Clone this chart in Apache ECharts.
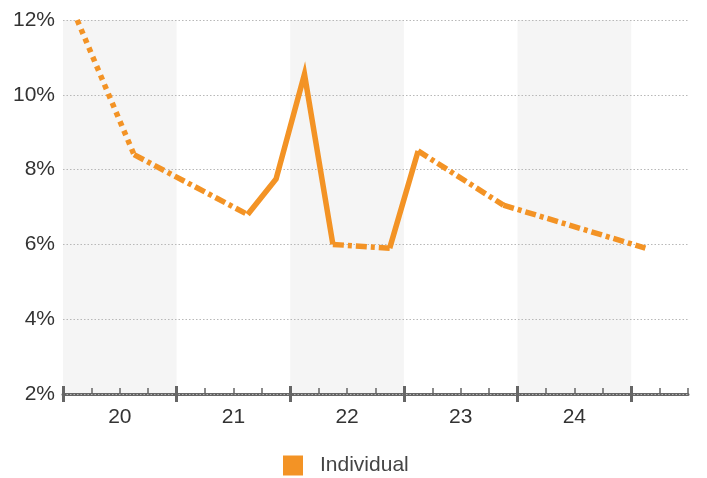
<!DOCTYPE html>
<html>
<head>
<meta charset="utf-8">
<script src="https://cdn.jsdelivr.net/npm/echarts@6/dist/echarts.min.js"></script>
<style>html,body{margin:0;padding:0;background:#fff}#c{width:707px;height:478px}</style>
</head>
<body>
<div id="c"></div>
<script>
// Quarterly categories (20Q1 .. 25Q2)
var quarters = ['20Q1','20Q2','20Q3','20Q4','21Q1','21Q2','21Q3','21Q4','22Q1','22Q2','22Q3','22Q4',
                '23Q1','23Q2','23Q3','23Q4','24Q1','24Q2','24Q3','24Q4','25Q1','25Q2'];
// Individual rate (%), null = no observation
var individual = [12.0, null, 8.4, null, null, null, 6.8, 7.75, 10.55, 6.0, null, 5.9,
                  8.5, null, null, 7.05, null, null, null, null, 5.9, null];
// Year labels
var yearLabels = ['20','21','22','23','24'];
var yearTickPositions = [0, 4, 8, 12, 16, 20];
var yearLabelPositions = [2, 6, 10, 14, 18];

var ORANGE = '#f39325';
var AXIS = '#666666';
var FONT = '"Liberation Sans", Arial, sans-serif';

// Build gap-connecting series (dashed) from the data
var gapSeries = [];
var prev = -1, gapCount = 0;
for (var i = 0; i < individual.length; i++) {
  if (individual[i] == null) continue;
  if (prev >= 0 && i - prev > 1) {
    var d = quarters.map(function () { return null; });
    d[prev] = individual[prev];
    d[i] = individual[i];
    gapSeries.push({
      name: 'gap' + gapCount,
      type: 'line',
      xAxisIndex: 0,
      data: d,
      connectNulls: true,
      showSymbol: false,
      silent: true,
      lineStyle: {
        color: ORANGE, width: 5.5, cap: 'butt',
        type: gapCount === 0 ? [5, 5] : [11, 4, 4, 4]
      },
      z: 5
    });
    gapCount++;
  }
  prev = i;
}

var chart = echarts.init(document.getElementById('c'));
chart.setOption({
  animation: false,
  backgroundColor: '#ffffff',
  textStyle: { fontFamily: FONT },
  grid: { left: 63, right: 19, top: 20, bottom: 84 },
  xAxis: [
    {
      type: 'category',
      data: quarters,
      boundaryGap: true,
      z: 0,
      axisLine: { show: true, lineStyle: { color: AXIS, width: 3 } },
      axisTick: { show: true, inside: true, interval: 0, length: 6, lineStyle: { color: AXIS, width: 1.5 } },
      axisLabel: { show: false },
      splitLine: { show: false },
      splitArea: { show: true, interval: 3, areaStyle: { color: ['#f5f5f5', 'rgba(255,255,255,0)'] } }
    },
    {
      type: 'value',
      min: 0, max: quarters.length,
      position: 'bottom',
      z: 3,
      axisLine: { show: false },
      axisTick: { show: true, length: 8, customValues: yearTickPositions, lineStyle: { color: AXIS, width: 3 } },
      axisLabel: {
        show: true, customValues: yearLabelPositions, margin: 13,
        color: '#333', fontSize: 21, fontFamily: FONT,
        formatter: function (v) { return yearLabels[Math.round((v - 2) / 4)]; }
      },
      splitLine: { show: false }
    },
    {
      type: 'value',
      min: 0, max: quarters.length,
      position: 'bottom',
      z: 3,
      axisLine: { show: false },
      axisTick: { show: true, inside: true, length: 8, customValues: yearTickPositions, lineStyle: { color: AXIS, width: 3 } },
      axisLabel: { show: false },
      splitLine: { show: false }
    }
  ],
  yAxis: {
    type: 'value',
    min: 2, max: 12, interval: 2,
    z: 2,
    axisLine: { show: false },
    axisTick: { show: false },
    axisLabel: { color: '#333', fontSize: 21, fontFamily: FONT, margin: 8, formatter: '{value}%' },
    splitLine: { show: true, lineStyle: { color: '#b8b8b8', type: [1.5, 2], width: 1.2 } }
  },
  legend: {
    data: [{ name: 'Individual', icon: 'rect' }],
    left: 278, top: 450,
    itemWidth: 20, itemHeight: 20,
    textStyle: { color: '#444', fontSize: 21, fontFamily: FONT, padding: [0, 0, 0, 12] }
  },
  series: [
    {
      name: 'Individual',
      type: 'line',
      xAxisIndex: 0,
      data: individual,
      connectNulls: false,
      showSymbol: false,
      itemStyle: { color: ORANGE },
      lineStyle: { color: ORANGE, width: 5.5, join: 'miter' },
      z: 5
    }
  ].concat(gapSeries)
});
</script>
</body>
</html>
